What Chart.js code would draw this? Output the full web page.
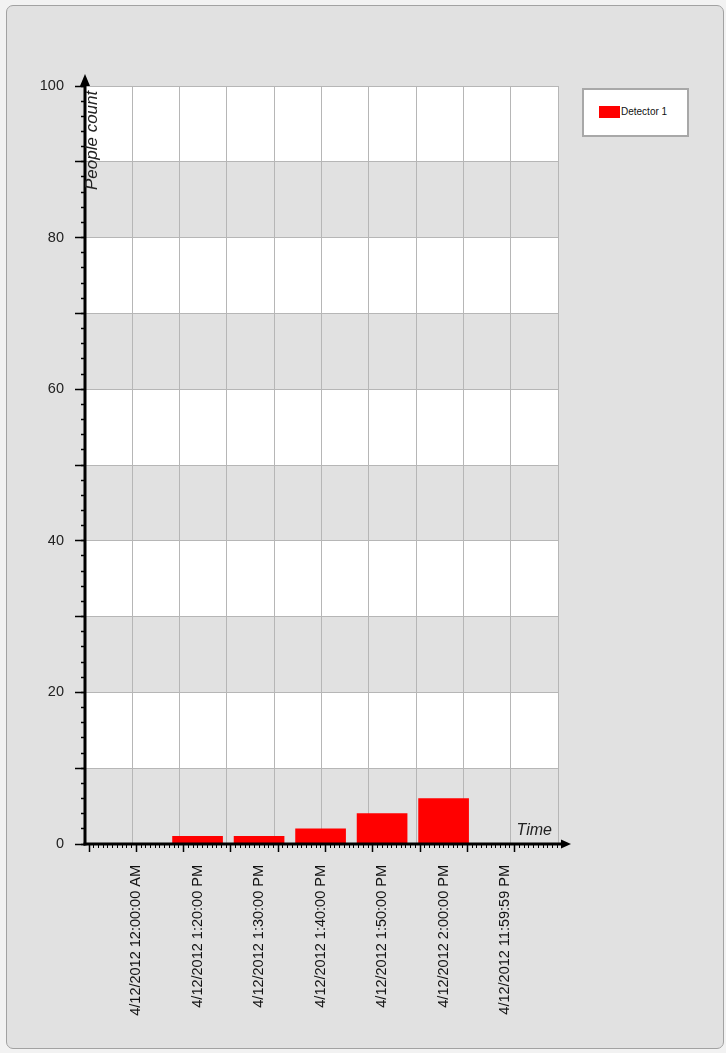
<!DOCTYPE html>
<html>
<head>
<meta charset="utf-8">
<script src="https://cdn.jsdelivr.net/npm/chart.js@4/dist/chart.umd.min.js"></script>
<style>
  body { margin: 0; background: #f2f2f2; }
  #panel {
    position: absolute; left: 6px; top: 5px; width: 716px; height: 1042px;
    background: #e1e1e1; border: 1px solid #a2a2a2; border-radius: 7px;
  }
  #chart { position: absolute; left: 0; top: 0; }
  #legend {
    position: absolute; left: 582px; top: 88px; width: 103px; height: 45px;
    background: #fff; border: 2px solid #a8a8a8;
    font: 10px "Liberation Sans", Arial, sans-serif; color: #111;
  }
  #legend .sw {
    position: absolute; left: 15px; top: 16px; width: 21px; height: 12px; background: #f00;
  }
  #legend .txt { position: absolute; left: 37px; top: 16px; line-height: 12px; }
</style>
</head>
<body>
<div id="panel"></div>
<canvas id="chart" width="726" height="1053"></canvas>
<div id="legend"><span class="sw"></span><span class="txt">Detector 1</span></div>
<script>
// chart values
var timeLabels = [
    '4/12/2012 12:00:00 AM',
    '4/12/2012 1:20:00 PM',
    '4/12/2012 1:30:00 PM',
    '4/12/2012 1:40:00 PM',
    '4/12/2012 1:50:00 PM',
    '4/12/2012 2:00:00 PM',
    '4/12/2012 11:59:59 PM'
];
var peopleCount = [0, 1, 1, 2, 4, 6, 0];
var seriesName = 'Detector 1';
var yLabelTicks = [0, 20, 40, 60, 80, 100];
var yTitle = 'People count';
var xTitle = 'Time';

Chart.defaults.font.family = '"Liberation Sans", Arial, Helvetica, sans-serif';
Chart.defaults.color = '#111';

function setTicks(values) {
    return function (scale) {
        scale.ticks = values.map(function (v) { return { value: v }; });
    };
}

function steps(from, to, step) {
    var out = [];
    for (var v = from; v <= to + 1e-9; v += step) out.push(Math.round(v * 1000) / 1000);
    return out;
}

var bandsPlugin = {
    id: 'bands',
    beforeDraw: function (chart) {
        var ctx = chart.ctx, a = chart.chartArea, ys = chart.scales.yg;
        ctx.save();
        for (var v = 0; v < 100; v += 10) {
            var top = ys.getPixelForValue(v + 10), bottom = ys.getPixelForValue(v);
            ctx.fillStyle = (v / 10) % 2 ? '#ffffff' : '#e1e1e1';
            ctx.fillRect(a.left, top, a.right - a.left, bottom - top);
        }
        ctx.restore();
    }
};

var axesPlugin = {
    id: 'axesArrows',
    afterDatasetsDraw: function (chart) {
        var ctx = chart.ctx, a = chart.chartArea;
        var y0 = chart.scales.y.getPixelForValue(0);
        var x0 = a.left;
        ctx.save();
        ctx.strokeStyle = '#000';
        ctx.fillStyle = '#000';
        ctx.lineWidth = 3;
        ctx.beginPath();
        ctx.moveTo(x0, y0 + 1.5);
        ctx.lineTo(x0, a.top - 2);
        ctx.stroke();
        ctx.beginPath();
        ctx.moveTo(x0 - 1.5, y0);
        ctx.lineTo(a.right + 5, y0);
        ctx.stroke();
        // arrow heads
        ctx.beginPath();
        ctx.moveTo(x0, a.top - 12);
        ctx.lineTo(x0 - 5, a.top);
        ctx.lineTo(x0 + 5, a.top);
        ctx.closePath();
        ctx.fill();
        ctx.beginPath();
        ctx.moveTo(a.right + 13, y0);
        ctx.lineTo(a.right + 3, y0 - 4.5);
        ctx.lineTo(a.right + 3, y0 + 4.5);
        ctx.closePath();
        ctx.fill();
        // axis titles
        ctx.font = 'italic 16px "Liberation Sans", Arial, sans-serif';
        ctx.fillStyle = '#222';
        ctx.textAlign = 'right';
        ctx.textBaseline = 'alphabetic';
        ctx.fillText(xTitle, a.right - 6, y0 - 9);
        ctx.font = 'italic 17px "Liberation Sans", Arial, sans-serif';
        ctx.translate(x0 + 12, a.top + 104);
        ctx.rotate(-Math.PI / 2);
        ctx.textAlign = 'left';
        ctx.fillText(yTitle, 0, 0);
        ctx.restore();
    }
};

var gridColor = '#b6b6b6';

new Chart(document.getElementById('chart'), {
    type: 'bar',
    data: {
        datasets: [{
            label: seriesName,
            data: peopleCount.map(function (v, i) { return { x: i, y: v }; }),
            backgroundColor: '#ff0000',
            borderWidth: 0,
            barThickness: 50,
            xAxisID: 'x',
            yAxisID: 'y'
        }]
    },
    options: {
        responsive: false,
        animation: false,
        layout: { padding: { left: 0, top: 86, right: 168, bottom: 0 } },
        plugins: { legend: { display: false }, tooltip: { enabled: false } },
        scales: {
            xg: {
                type: 'linear', position: 'bottom', weight: 0, offset: false,
                min: 0, max: 10,
                afterBuildTicks: setTicks(steps(0, 10, 1)),
                grid: { color: gridColor, drawTicks: false, offset: false },
                border: { display: false },
                ticks: { display: false },
                afterFit: function (s) { s.height = 0; }
            },
            xt: {
                type: 'linear', position: 'bottom', weight: 0, offset: false,
                min: 0, max: 10,
                afterBuildTicks: setTicks(steps(0.085, 9.1, 1)),
                grid: { drawOnChartArea: false, tickLength: 8, tickColor: '#000', tickWidth: 1.5, offset: false },
                border: { display: false },
                ticks: { display: false },
                afterFit: function (s) { s.height = 0; }
            },
            xm: {
                type: 'linear', position: 'bottom', weight: 0, offset: false,
                min: 0, max: 10,
                afterBuildTicks: setTicks(steps(0.085, 9.99, 0.1)),
                grid: { drawOnChartArea: false, tickLength: 4, tickColor: '#000', tickWidth: 1, offset: false },
                border: { display: false },
                ticks: { display: false },
                afterFit: function (s) { s.height = 0; }
            },
            x: {
                type: 'linear', position: 'bottom', weight: 5, offset: false,
                min: -0.83, max: 6.86,
                afterBuildTicks: setTicks(timeLabels.map(function (_, i) { return i; })),
                grid: { display: false, drawTicks: false, offset: false },
                border: { display: false },
                ticks: {
                    autoSkip: false, minRotation: 90, maxRotation: 90, padding: 21,
                    font: { size: 14.5 }, color: '#111',
                    callback: function (v) { return timeLabels[v]; }
                },
                afterFit: function (s) { s.height = 1053 - 844; }
            },
            yg: {
                type: 'linear', position: 'left', weight: 0,
                min: 0, max: 100,
                afterBuildTicks: setTicks(steps(0, 100, 10)),
                grid: { color: gridColor, tickLength: 10, tickColor: '#000', tickWidth: 1.5 },
                border: { display: false },
                ticks: { display: false },
                afterFit: function (s) { s.width = 0; }
            },
            ym: {
                type: 'linear', position: 'left', weight: 0,
                min: 0, max: 100,
                afterBuildTicks: setTicks(steps(0, 100, 2)),
                grid: { drawOnChartArea: false, tickLength: 4, tickColor: '#000', tickWidth: 1.5 },
                border: { display: false },
                ticks: { display: false },
                afterFit: function (s) { s.width = 0; }
            },
            y: {
                type: 'linear', position: 'left', weight: 5,
                min: 0, max: 100,
                afterBuildTicks: setTicks(yLabelTicks),
                grid: { display: false, drawTicks: false },
                border: { display: false },
                ticks: { padding: 21, font: { size: 14.5 }, color: '#222' },
                afterFit: function (s) { s.width = 85; }
            }
        }
    },
    plugins: [bandsPlugin, axesPlugin]
});
</script>
</body>
</html>
